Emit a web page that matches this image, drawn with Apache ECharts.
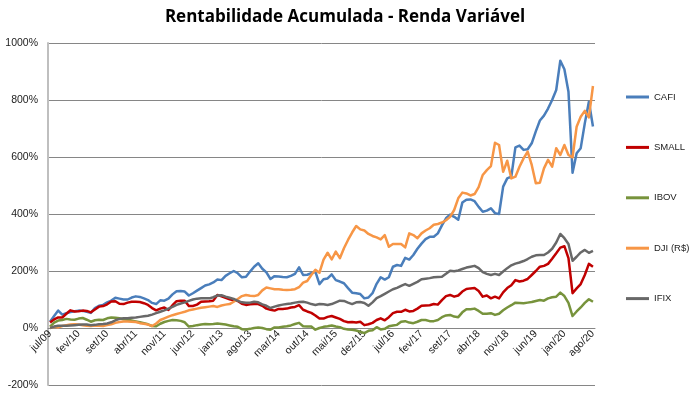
<!DOCTYPE html>
<html><head><meta charset="utf-8">
<script src="https://cdn.jsdelivr.net/npm/echarts@6/dist/echarts.min.js"></script>
<style>html,body{margin:0;padding:0;background:#fff}#c{width:690px;height:395px}</style>
</head><body><div id="c"></div>
<script>
// Month abbreviations (Portuguese) used for the category labels
const monthNames = ['jan','fev','mar','abr','mai','jun','jul','ago','set','out','nov','dez'];
const startYear = 2009, startMonth = 6, monthCount = 134; // jul/09 .. ago/20
const categories = [];
for (let k = 0; k < monthCount; k++) {
  const m = (startMonth + k) % 12;
  const y = startYear + Math.floor((startMonth + k) / 12);
  categories.push(monthNames[m] + '/' + String(y % 100).padStart(2, '0'));
}
const yTicks = [-200, 0, 200, 400, 600, 800, 1000];
const seriesNames = ['CAFI', 'SMALL', 'IBOV', 'DJI (R$)', 'IFIX'];

const cafi = [22,42,61,47,52,56,59,61,60,57, 53,70,78,81,90,96,106,103,100,100,
  107,111,109,104,98,88,84,97,96,103, 118,129,130,128,114,122,131,140,149,153,
  160,170,168,183,192,200,192,178,180,198, 215,227,208,195,172,182,181,179,178,183,
  190,213,186,187,192,198,154,171,174,188, 168,163,157,140,124,122,119,104,107,122,
  155,178,170,178,215,221,218,246,240,256, 278,296,312,320,320,332,360,385,398,390,
  380,440,450,451,445,425,408,412,420,403, 400,496,525,531,634,640,625,627,648,690,
  728,745,770,800,835,938,908,829,545,613, 631,718,794,707];
const small = [19,30,37,37,50,62,58,59,61,60, 55,65,75,77,83,93,94,85,84,89,
  92,92,91,87,81,70,62,68,72,63, 80,94,96,96,77,77,82,92,93,94,
  96,116,111,106,101,97,95,85,81,83, 84,84,78,68,64,61,67,67,68,72,
  74,80,64,58,53,44,33,33,39,42, 37,32,24,20,21,19,22,10,13,18,
  28,34,27,38,52,57,57,64,58,60, 68,78,79,80,84,82,98,112,116,110,
  114,128,137,139,140,130,110,114,104,110, 104,125,140,150,168,163,166,172,186,200,
  215,218,225,243,262,282,287,245,122,139, 154,186,225,215];
const ibov = [5,19,26,28,32,30,29,33,35,29, 22,27,29,28,34,37,36,34,31,29,
  26,23,20,17,13,7,6,15,21,25, 28,27,25,20,5,7,10,12,14,13,
  14,16,14,12,9,6,4,-4,-5,-3, 0,2,0,-4,-6,2,2,4,6,9,
  14,18,6,5,5,-6,0,4,6,9, 5,3,-3,-5,-6,-9,-13,-18,-10,-8,
  3,-5,-3,6,9,11,22,24,19,17, 22,28,28,24,24,28,38,44,46,40,
  38,55,66,66,68,60,50,50,52,46, 50,62,72,80,89,88,87,89,91,95,
  98,96,104,108,110,124,112,88,42,58, 72,88,101,92];
const dji = [0,4,2,7,10,12,13,12,10,8, 7,9,8,7,10,13,18,21,23,23,
  22,21,17,15,12,7,16,28,34,40, 45,49,53,57,62,65,68,71,73,75,
  77,74,79,82,84,92,102,112,116,113, 112,116,132,142,139,136,136,134,133,134,
  136,143,159,165,186,204,194,240,264,241, 268,245,280,309,335,358,346,342,330,323,
  318,311,326,285,295,295,295,283,332,326, 315,332,342,350,362,365,370,378,390,414,
  455,475,472,465,470,494,537,554,568,650, 642,548,587,525,531,566,595,619,572,508,
  510,560,590,566,631,607,642,607,599,706, 741,762,739,849];
const ifix = [0,5,8,8,8,9,10,11,12,12, 10,11,13,14,16,20,27,32,34,34,
  36,37,39,41,43,47,52,57,62,68, 74,81,86,90,95,100,103,104,104,104,
  108,114,115,110,106,102,95,90,89,89, 92,90,83,78,70,75,79,82,84,86,
  89,91,92,89,84,81,84,83,81,84, 90,96,95,89,84,90,91,88,78,90,
  105,112,120,128,136,141,148,154,148,155, 162,171,173,175,178,179,180,190,201,199,
  202,207,212,215,218,210,196,190,186,190, 186,198,210,220,226,230,235,242,250,255,
  256,256,265,278,300,330,315,295,236,250, 265,274,264,271];

const seriesData = [cafi, small, ibov, dji, ifix];
const colors = ['#4A7EBB', '#C00000', '#77933C', '#F79646', '#686868'];

const gridTop = 43, gridBottom = 10, plotHeight = 395 - gridTop - gridBottom;
// place the category axis at the 0% level (as the value axis crosses there)
const zeroOffset = -plotHeight * (0 - yTicks[0]) / (yTicks[yTicks.length - 1] - yTicks[0]);

const chart = echarts.init(document.getElementById('c'), null, {renderer: 'canvas'});
chart.setOption({
  animation: false,
  backgroundColor: '#fff',
  title: {
    text: 'Rentabilidade Acumulada - Renda Variável',
    left: 'center', top: 4,
    textStyle: {fontFamily: 'Open Sans', fontWeight: 'bold', fontSize: 17, color: '#000'}
  },
  legend: {
    orient: 'vertical', left: 621, top: 87,
    itemWidth: 23, itemHeight: 3, itemGap: 40.4, icon: 'rect',
    textStyle: {fontFamily: 'Liberation Sans', fontSize: 9.5, color: '#222'},
    data: seriesNames
  },
  grid: {left: 48, right: 95, top: gridTop, bottom: gridBottom, containLabel: false, outerBoundsMode: 'none'},
  xAxis: {
    type: 'category', data: categories, boundaryGap: true,
    position: 'bottom', offset: zeroOffset,
    axisLine: {onZero: false, lineStyle: {color: '#868686', width: 1}},
    axisTick: {interval: 6, length: 5, lineStyle: {color: '#868686'}},
    axisLabel: {interval: 6, rotate: 45, fontSize: 10.5, margin: 4, color: '#222', fontFamily: 'Liberation Sans'},
    splitLine: {show: false}
  },
  yAxis: {
    type: 'value', min: yTicks[0], max: yTicks[yTicks.length - 1], interval: 200,
    axisLabel: {formatter: v => v + '%', fontSize: 10.5, margin: 10, color: '#222', fontFamily: 'Liberation Sans'},
    axisLine: {show: true, lineStyle: {color: '#BFBFBF', width: 2}},
    axisTick: {show: false},
    splitLine: {lineStyle: {color: '#868686', width: 1}}
  },
  series: seriesData.map((d, i) => ({
    name: seriesNames[i], type: 'line', data: d,
    symbol: 'none', smooth: false,
    lineStyle: {width: 2.5, color: colors[i], join: 'round'},
    itemStyle: {color: colors[i]},
    emphasis: {disabled: true}
  }))
});
</script>
</body></html>
